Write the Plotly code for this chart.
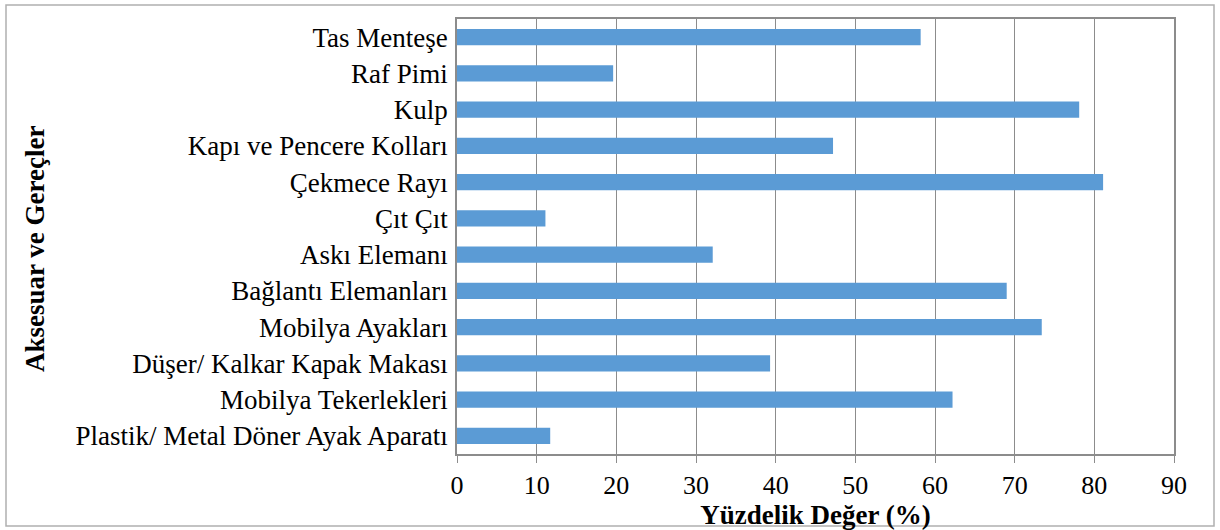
import plotly.graph_objects as go

categories = [
    "Plastik/ Metal Döner Ayak Aparatı",
    "Mobilya Tekerlekleri",
    "Düşer/ Kalkar Kapak Makası",
    "Mobilya Ayakları",
    "Bağlantı Elemanları",
    "Askı Elemanı",
    "Çıt Çıt",
    "Çekmece Rayı",
    "Kapı ve Pencere Kolları",
    "Kulp",
    "Raf Pimi",
    "Tas Menteşe",
]
values = [11.7, 62.2, 39.3, 73.4, 69.0, 32.1, 11.1, 81.1, 47.2, 78.1, 19.6, 58.2]
x_ticks = [0, 10, 20, 30, 40, 50, 60, 70, 80, 90]

FONT = "Liberation Serif"
GRID = "#8c8c8c"

fig = go.Figure(
    go.Bar(
        x=values,
        y=categories,
        orientation="h",
        marker=dict(color="#5b9bd5", line=dict(width=0)),
        width=0.45,
    )
)

W, H = 1220, 530
ml, mr, mt, mb = 457, 46, 19, 76
pw, ph = W - ml - mr, H - mt - mb

fig.update_layout(
    width=W,
    height=H,
    margin=dict(l=ml, r=mr, t=mt, b=mb),
    paper_bgcolor="white",
    plot_bgcolor="white",
    showlegend=False,
    font=dict(family=FONT, color="black", size=26),
    xaxis=dict(
        range=[0, 90],
        tickvals=x_ticks,
        ticktext=[str(v) for v in x_ticks],
        showgrid=True,
        gridcolor=GRID,
        gridwidth=1,
        showline=True,
        linecolor=GRID,
        linewidth=1.5,
        mirror=True,
        ticks="outside",
        ticklen=7,
        tickcolor=GRID,
        tickfont=dict(family=FONT, size=26),
        zeroline=False,
        title=dict(text="<b>Yüzdelik Değer (%)</b>", font=dict(family=FONT, size=27), standoff=0),
        fixedrange=True,
    ),
    yaxis=dict(
        categoryorder="array",
        categoryarray=categories,
        showgrid=False,
        showline=True,
        linecolor=GRID,
        linewidth=1.5,
        mirror=True,
        ticks="",
        ticklabelstandoff=2,
        tickfont=dict(family=FONT, size=27),
        fixedrange=True,
    ),
    annotations=[
        dict(
            text="<b>Aksesuar ve Gereçler</b>",
            textangle=-90,
            xref="paper",
            yref="paper",
            x=(35 - ml) / pw,
            y=(H - mb - 249) / ph,
            showarrow=False,
            font=dict(family=FONT, size=27),
            xanchor="center",
            yanchor="middle",
        )
    ],
    shapes=[
        dict(
            type="rect",
            xref="paper",
            yref="paper",
            x0=(6 - ml) / pw,
            x1=(1214 - ml) / pw,
            y0=(H - mb - 526) / ph,
            y1=(H - mb - 5) / ph,
            line=dict(color="#b0b0b0", width=1.5),
            fillcolor="rgba(0,0,0,0)",
            layer="below",
        )
    ],
)

fig.write_html(
    "out.html",
    config={"displayModeBar": False},
    post_script="document.body.style.margin='0px';",
)
